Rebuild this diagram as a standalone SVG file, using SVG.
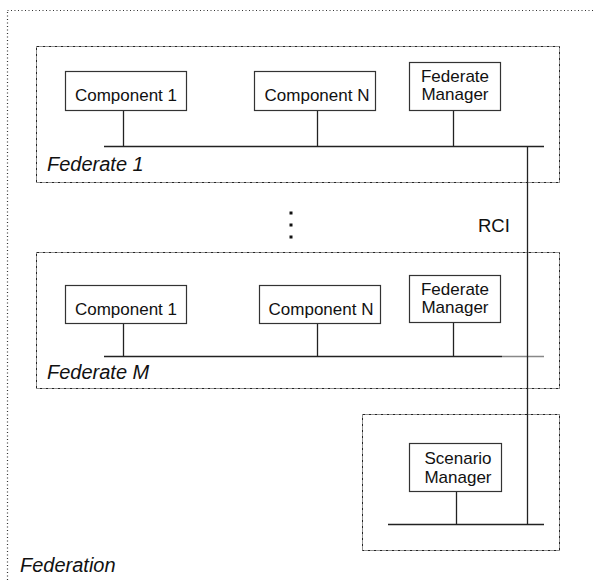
<svg xmlns="http://www.w3.org/2000/svg" width="595" height="581" viewBox="0 0 595 581">
<style>
.outer{fill:none;stroke:#333;stroke-width:1.2;stroke-dasharray:1 2.5}
.grp{fill:none;stroke:#222;stroke-width:1;stroke-dasharray:3 1 1 1}
.box{fill:#fff;stroke:#333;stroke-width:1.2}
.lbl{font-family:"Liberation Sans",Arial,sans-serif;font-size:17px;fill:#111;text-anchor:middle}
.it{font-family:"Liberation Sans",Arial,sans-serif;font-size:20px;font-style:italic;fill:#111}
.ln{stroke:#222;stroke-width:1.3;fill:none}
</style>
<rect width="595" height="581" fill="#fff"/>
<g id="federation">
<rect class="outer" x="7.5" y="10.5" width="600" height="600"/>
<text class="it" x="20" y="572">Federation</text>
</g>
<g id="federate1">
<rect class="grp" x="36.5" y="46.5" width="523" height="136"/>
<text class="it" x="47" y="171">Federate 1</text>
</g>
<g id="federateM">
<rect class="grp" x="36.5" y="252.5" width="523" height="136"/>
<text class="it" x="47" y="379">Federate M</text>
</g>
<g id="scenario">
<rect class="grp" x="362.5" y="414.5" width="197" height="136"/>
</g>
<g id="connectors">
<line class="ln" x1="104" y1="146.5" x2="544" y2="146.5"/>
<line class="ln" x1="123.5" y1="111" x2="123.5" y2="146.5"/>
<line class="ln" x1="317.5" y1="111" x2="317.5" y2="146.5"/>
<line class="ln" x1="453.5" y1="111" x2="453.5" y2="146.5" stroke="#666"/>
<line class="ln" x1="104" y1="356.5" x2="502" y2="356.5"/>
<line class="ln" x1="502" y1="356.5" x2="544" y2="356.5" style="stroke:#888"/>
<line class="ln" x1="123.5" y1="324" x2="123.5" y2="356.5"/>
<line class="ln" x1="317.5" y1="324" x2="317.5" y2="356.5"/>
<line class="ln" x1="453.5" y1="323" x2="453.5" y2="356.5"/>
<line class="ln" x1="388" y1="524.5" x2="544" y2="524.5"/>
<line class="ln" x1="456.5" y1="492" x2="456.5" y2="524.5"/>
<line class="ln" x1="527.5" y1="146.5" x2="527.5" y2="524.5"/>
<text x="478" y="232" style="font-family:'Liberation Sans',Arial,sans-serif;font-size:18.5px;fill:#111">RCI</text>
<rect x="289.5" y="211.5" width="3" height="3" fill="#111"/>
<rect x="289.5" y="223.5" width="3" height="3" fill="#111"/>
<rect x="289.5" y="235.5" width="3" height="3" fill="#111"/>
</g>
<g id="f1-comp1">
<rect class="box" x="65.5" y="71.5" width="121" height="39"/>
<text class="lbl" x="126" y="101">Component 1</text>
</g>
<g id="f1-compN">
<rect class="box" x="254.5" y="71.5" width="121" height="39"/>
<text class="lbl" x="317" y="101">Component N</text>
</g>
<g id="f1-fm">
<rect class="box" x="409.5" y="62.5" width="91" height="48"/>
<text class="lbl" x="455" y="82">Federate</text>
<text class="lbl" x="455" y="100">Manager</text>
</g>
<g id="fM-comp1">
<rect class="box" x="65.5" y="285.5" width="121" height="38"/>
<text class="lbl" x="126" y="315">Component 1</text>
</g>
<g id="fM-compN">
<rect class="box" x="259.5" y="285.5" width="121" height="38"/>
<text class="lbl" x="321" y="315">Component N</text>
</g>
<g id="fM-fm">
<rect class="box" x="409.5" y="275.5" width="91" height="47"/>
<text class="lbl" x="455" y="295">Federate</text>
<text class="lbl" x="455" y="313">Manager</text>
</g>
<g id="scenario-manager">
<rect class="box" x="409.5" y="443.5" width="92" height="48"/>
<text class="lbl" x="458" y="464">Scenario</text>
<text class="lbl" x="458" y="483">Manager</text>
</g>
</svg>
